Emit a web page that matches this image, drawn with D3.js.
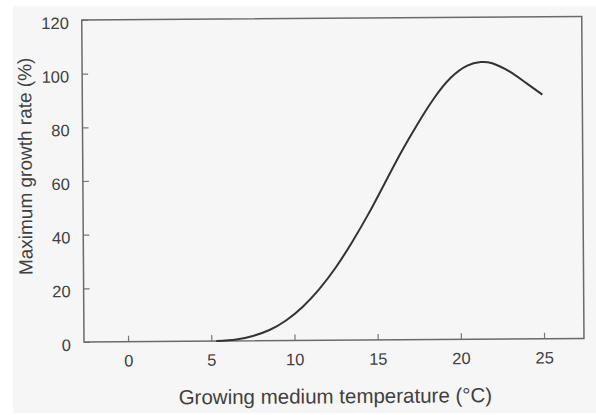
<!DOCTYPE html>
<html lang="en">
<head>
    <meta charset="UTF-8">
    <title>Maximum growth rate vs growing medium temperature</title>
    <script src="https://d3js.org/d3.v7.min.js"></script>
    <style>
        body {
            margin: 0;
            background-color: #ffffff;
            font-family: "Liberation Sans", Arial, sans-serif;
        }

        .axis text {
            font-size: 16.5px;
            fill: #404040;
        }

        .axis line {
            stroke: #777;
            stroke-width: 1.2;
        }

        .axis-title {
            fill: #404040;
        }
    </style>
</head>
<body>
    <div id="chart"></div>
    <script>
        // Curve (temperature in °C, growth rate in %)
        const temperature = [5.3, 6.5, 7.5, 8.5, 9.5, 10.5, 11.5, 12.5, 13.5, 14.5, 15.5, 16.5, 17.5, 18.5, 19.5, 20.5, 21.3, 22, 23, 24, 25];
        const growthRate = [0, 0.5, 1.8, 4, 7.5, 12.5, 19, 27, 36.5, 47, 58.5, 70, 80.5, 90, 97.5, 102, 103.3, 102.8, 99.8, 95.5, 91];

        const xTicks = [0, 5, 10, 15, 20, 25];
        const yTicks = [0, 20, 40, 60, 80, 100, 120];

        const xTitle = "Growing medium temperature (°C)";
        const yTitle = "Maximum growth rate (%)";

        // Chart dimensions
        const W = 596, H = 415;
        const margin = { top: 20, right: 13, bottom: 73, left: 83 };
        const width = W - margin.left - margin.right;
        const height = H - margin.top - margin.bottom;

        const svg = d3.select("#chart")
            .append("svg")
            .attr("width", W)
            .attr("height", H);

        // scanned paper background
        svg.append("rect")
            .attr("x", 13).attr("y", 6)
            .attr("width", W - 13).attr("height", H - 8)
            .attr("fill", "#f6f6f6");

        // the scan is a little tilted
        const page = svg.append("g")
            .attr("transform", "translate(0,-1.5) rotate(-0.4, 298, 200)");

        const g = page.append("g")
            .attr("transform", `translate(${margin.left},${margin.top})`);

        // Scales
        const x = d3.scaleLinear().domain([-2.65, 27.4]).range([0, width]);
        const y = d3.scaleLinear().domain([0, 120]).range([height, 0]);

        // Axes, ticks pointing inward
        const xAxis = g.append("g")
            .attr("class", "axis")
            .attr("transform", `translate(0,${height})`)
            .call(d3.axisBottom(x).tickValues(xTicks).tickSizeInner(-6).tickSizeOuter(0).tickPadding(13));

        const yAxis = g.append("g")
            .attr("class", "axis")
            .call(d3.axisLeft(y).tickValues(yTicks).tickSizeInner(-6).tickSizeOuter(0).tickPadding(13));

        xAxis.select(".domain").remove();
        yAxis.select(".domain").remove();
        yAxis.selectAll("text").attr("dy", "0.5em");

        // Frame
        g.append("rect")
            .attr("width", width)
            .attr("height", height)
            .attr("fill", "none")
            .attr("stroke", "#6a6a6a")
            .attr("stroke-width", 1.5);

        // Curve
        const points = temperature.map((t, i) => [t, growthRate[i]]);
        const line = d3.line()
            .x(d => x(d[0]))
            .y(d => y(d[1]))
            .curve(d3.curveNatural);

        g.append("path")
            .datum(points)
            .attr("fill", "none")
            .attr("stroke", "#333")
            .attr("stroke-width", 2)
            .attr("d", line);

        // Axis titles
        page.append("text")
            .attr("class", "axis-title")
            .attr("x", 334)
            .attr("y", 405)
            .attr("text-anchor", "middle")
            .style("font-size", "20.5px")
            .text(xTitle);

        page.append("text")
            .attr("class", "axis-title")
            .attr("transform", "translate(32,166) rotate(-90)")
            .attr("text-anchor", "middle")
            .style("font-size", "19px")
            .text(yTitle);
    </script>
</body>
</html>
